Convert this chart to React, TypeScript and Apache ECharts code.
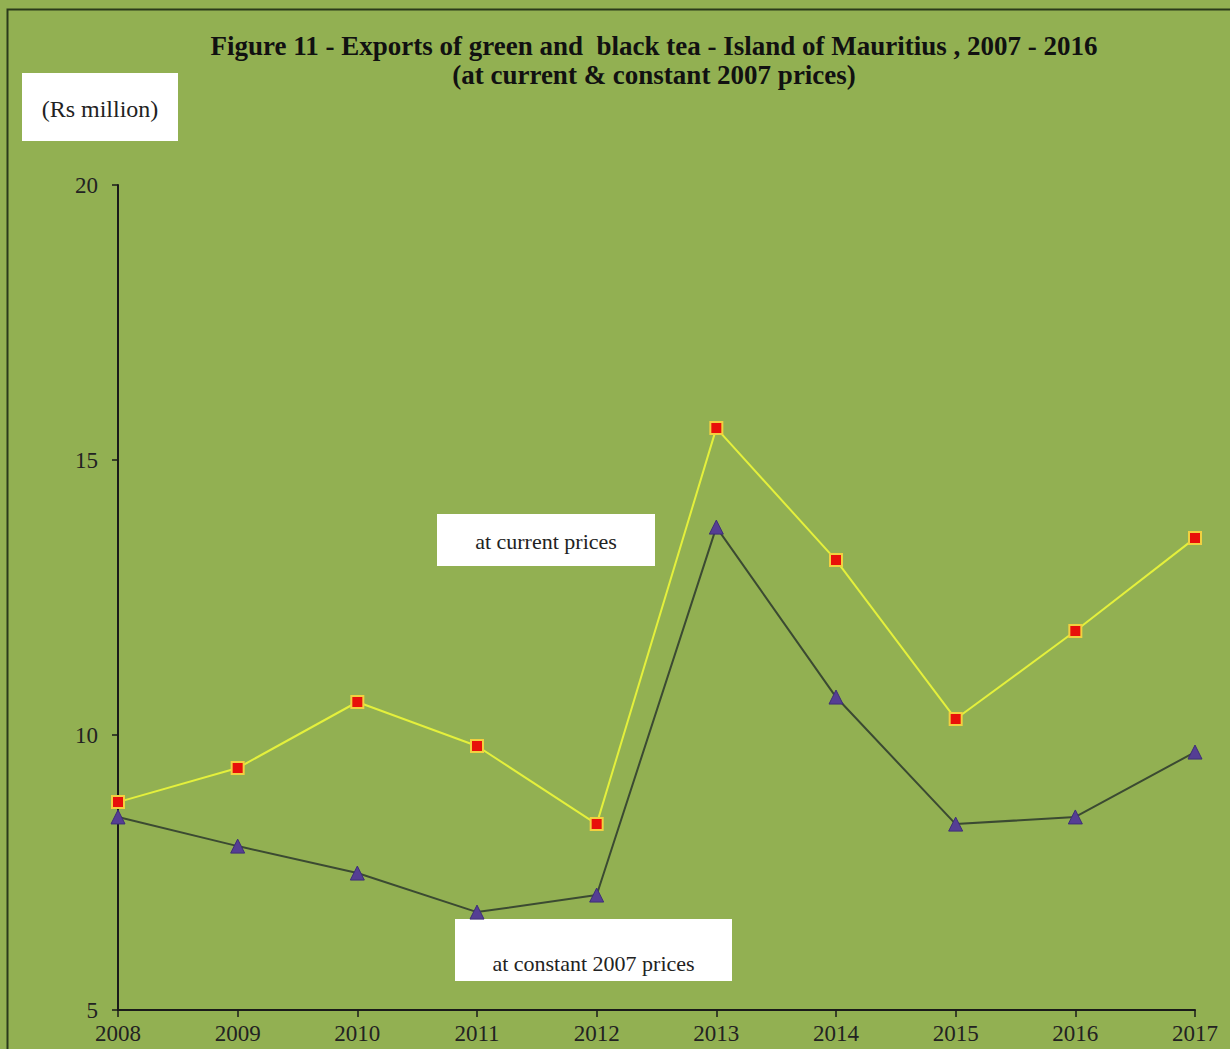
import React, { useEffect, useRef } from "react";
import * as echarts from "echarts";

const years = ["2008", "2009", "2010", "2011", "2012", "2013", "2014", "2015", "2016", "2017"];
const currentPrices = [8.78, 9.4, 10.6, 9.8, 8.38, 15.58, 13.18, 10.29, 11.89, 13.58];
const constantPrices = [8.51, 7.98, 7.49, 6.78, 7.09, 13.78, 10.69, 8.38, 8.51, 9.69];
const yTicks = [5, 10, 15, 20];

const FONT = "Liberation Serif";

function labelBox(left: number, top: number, w: number, h: number, text: string, ty: number, size: number) {
  return {
    type: "group",
    left,
    top,
    children: [
      { type: "rect", shape: { x: 0, y: 0, width: w, height: h }, style: { fill: "#fff" } },
      {
        type: "text",
        x: w / 2,
        y: ty,
        style: {
          text,
          fontFamily: FONT,
          fontSize: size,
          fill: "#222",
          align: "center",
          verticalAlign: "middle",
        },
      },
    ],
  };
}

export default function App() {
  const ref = useRef<HTMLDivElement>(null);
  useEffect(() => {
    document.body.style.margin = "0";
    const chart = echarts.init(ref.current!, null, { renderer: "svg" });
    chart.setOption({
      animation: false,
      backgroundColor: "#92B052",
      title: {
        text: "Figure 11 - Exports of green and  black tea - Island of Mauritius , 2007 - 2016\n(at current & constant 2007 prices)",
        left: 649,
        top: 26,
        textAlign: "center",
        textStyle: {
          fontFamily: FONT,
          fontWeight: "bold",
          fontSize: 27,
          lineHeight: 29,
          color: "#111",
        },
      },
      grid: { left: 118, right: 35, top: 185, bottom: 39, containLabel: false },
      xAxis: {
        type: "category",
        data: years,
        boundaryGap: false,
        axisLine: { lineStyle: { color: "#1a1a1a", width: 2 } },
        axisTick: { show: true, length: 7, alignWithLabel: true, lineStyle: { color: "#1a1a1a", width: 1.5 } },
        axisLabel: { fontFamily: FONT, fontSize: 23, color: "#222", margin: 12, interval: 0 },
        splitLine: { show: false },
      },
      yAxis: {
        type: "value",
        min: 5,
        max: 20,
        interval: 5,
        axisLine: { show: true, lineStyle: { color: "#1a1a1a", width: 2 } },
        axisTick: { show: true, length: 6, lineStyle: { color: "#1a1a1a", width: 1.5 } },
        axisLabel: {
          fontFamily: FONT,
          fontSize: 23,
          color: "#222",
          margin: 20,
          formatter: (v: number) => (yTicks.includes(v) ? String(v) : ""),
        },
        splitLine: { show: false },
      },
      series: [
        {
          name: "at current prices",
          type: "line",
          data: currentPrices,
          symbol: "rect",
          symbolSize: 12,
          itemStyle: { color: "#E8100A", borderColor: "#F2D040", borderWidth: 2 },
          lineStyle: { color: "#E4F03C", width: 2 },
          z: 3,
        },
        {
          name: "at constant 2007 prices",
          type: "line",
          data: constantPrices,
          symbol: "triangle",
          symbolSize: 14,
          itemStyle: { color: "#553E94", borderColor: "#3E2E78", borderWidth: 1 },
          lineStyle: { color: "#3B4A32", width: 2 },
          z: 2,
        },
      ],
      graphic: [
        {
          type: "rect",
          left: 5,
          top: 7,
          shape: { width: 1240, height: 1060 },
          style: { fill: "none", stroke: "#2a3a1a", lineWidth: 2 },
          silent: true,
        },
        labelBox(22, 73, 156, 68, "(Rs million)", 36, 24),
        labelBox(437, 514, 218, 52, "at current prices", 27, 22),
        labelBox(455, 919, 277, 62, "at constant 2007 prices", 44, 22),
      ],
    });
    return () => chart.dispose();
  }, []);
  return <div ref={ref} style={{ width: 1230, height: 1049, position: "absolute", left: 0, top: 0 }} />;
}
